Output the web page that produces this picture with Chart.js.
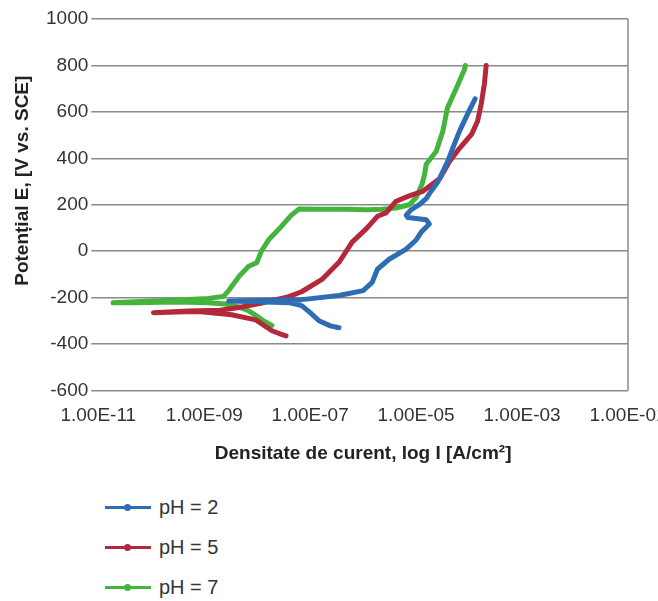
<!DOCTYPE html>
<html>
<head>
<meta charset="utf-8">
<script src="https://cdn.jsdelivr.net/npm/chart.js@4/dist/chart.umd.min.js"></script>
<style>
  html, body { margin: 0; padding: 0; background: #fff; }
  #wrap { position: relative; width: 658px; height: 601px; }
  #c { position: absolute; left: 0; top: 0; }
  #legend { position: absolute; left: 105px; top: 487px; font-family: "Liberation Sans", Arial, sans-serif; font-size: 20px; color: #333; }
  .item { height: 40px; display: flex; align-items: center; }
  .sw { position: relative; width: 46px; height: 3px; margin-right: 8px; }
  .dot { position: absolute; left: 19px; top: -2px; width: 7px; height: 7px; border-radius: 50%; }
</style>
</head>
<body>
<div id="wrap">
  <canvas id="c" width="658" height="469"></canvas>
  <div id="legend"></div>
</div>
<script>
// ---- data ----
const seriesNames = ['pH = 2', 'pH = 5', 'pH = 7'];
const seriesColors = ['#2e6db4', '#b3283b', '#45b43c'];

const ph2Current = [3.5e-7, 2.4e-7, 1.47e-7, 1.0e-7, 6.9e-8, 4e-8, 1e-8, 2.9e-9, 5e-9, 2e-8, 7e-8, 3.5e-7, 1.0e-6, 1.48e-6, 1.86e-6, 3.1e-6, 6.5e-6, 1.0e-5, 1.26e-5, 1.78e-5, 1.55e-5, 7e-6, 6.5e-6, 8e-6, 1.15e-5, 1.55e-5, 1.9e-5, 2.6e-5, 3.2e-5, 4.0e-5, 4.9e-5, 6.6e-5, 1.0e-4, 1.3e-4];
const ph2Potential = [-330, -322, -300, -265, -235, -222, -218, -215, -214, -212, -209, -191, -170, -135, -78, -35, 9, 48, 83, 117, 135, 145, 155, 178, 200, 226, 257, 300, 343, 390, 443, 517, 604, 656];

const ph5Current = [3.5e-8, 2.6e-8, 1.9e-8, 9.4e-9, 3.3e-9, 7.8e-10, 3e-10, 1.1e-10, 5e-10, 2e-9, 4.5e-9, 1.17e-8, 1.9e-8, 3.5e-8, 6.9e-8, 1.67e-7, 3.5e-7, 6.2e-7, 1.14e-6, 1.86e-6, 2.7e-6, 4.2e-6, 7.4e-6, 1.32e-5, 2.8e-5, 4.3e-5, 6.6e-5, 1.12e-4, 1.45e-4, 1.7e-4, 1.95e-4, 2.1e-4];
const ph5Potential = [-365, -355, -343, -296, -274, -260, -262, -265, -258, -255, -243, -225, -213, -200, -175, -122, -48, 39, 96, 150, 165, 215, 238, 257, 313, 387, 443, 504, 561, 635, 722, 800];

const ph7Current = [1.9e-8, 1.3e-8, 1.0e-8, 7e-9, 4.5e-9, 2.5e-9, 1.2e-9, 5e-10, 1.5e-10, 5e-11, 1.9e-11, 5e-11, 1.5e-10, 5e-10, 1.2e-9, 2.3e-9, 2.9e-9, 4.5e-9, 6.9e-9, 9.8e-9, 1.2e-8, 1.66e-8, 2.6e-8, 4.5e-8, 6.2e-8, 1.5e-7, 5e-7, 1.2e-6, 2.3e-6, 4.2e-6, 7.4e-6, 1.0e-5, 1.3e-5, 1.44e-5, 1.55e-5, 2.4e-5, 3.2e-5, 3.9e-5, 5.8e-5, 8.1e-5, 8.5e-5];
const ph7Potential = [-320, -300, -280, -258, -240, -228, -222, -220, -220, -222, -222, -218, -214, -208, -204, -195, -170, -110, -65, -50, 0, 50, 96, 157, 182, 180, 180, 178, 180, 186, 200, 230, 290, 330, 374, 430, 517, 617, 704, 780, 800];

const xTickValues = [1e-11, 1e-9, 1e-7, 1e-5, 1e-3, 1e-1];
const yMin = -600, yMax = 1000, yStep = 200;
const xTitle = 'Densitate de curent, log I [A/cm²]';
const yTitle = 'Potențial E, [V vs. SCE]';

// ---- build ----
const currents = [ph2Current, ph5Current, ph7Current];
const potentials = [ph2Potential, ph5Potential, ph7Potential];

function fmtExp(v) {
  const s = v.toExponential(2).toUpperCase(); // e.g. 1.00E-11
  const m = s.match(/^(.*)E([+-])(\d+)$/);
  if (!m) return s;
  return m[1] + 'E' + m[2] + (m[3].length < 2 ? '0' + m[3] : m[3]);
}

const datasets = seriesNames.map((name, i) => ({
  label: name,
  data: currents[i].map((x, k) => ({ x: x, y: potentials[i][k] })),
  showLine: true,
  borderColor: seriesColors[i],
  backgroundColor: seriesColors[i],
  borderWidth: 5,
  pointRadius: 0,
  tension: 0,
  borderCapStyle: 'round',
  borderJoinStyle: 'round'
}));

const FONT = '"Liberation Sans", Arial, sans-serif';
const GRID = '#8a8a8a';

// right-hand frame line of the plot area
const framePlugin = {
  id: 'frame',
  beforeDatasetsDraw(chart) {
    const { ctx, chartArea: a } = chart;
    ctx.save();
    ctx.strokeStyle = GRID;
    ctx.lineWidth = 1.5;
    ctx.beginPath();
    ctx.moveTo(a.right, a.top);
    ctx.lineTo(a.right, a.bottom);
    ctx.stroke();
    ctx.restore();
  }
};

// vertical axis title, placed a little above the plot's middle as in the reference
const yTitlePlugin = {
  id: 'yTitle',
  afterDraw(chart) {
    const { ctx, chartArea: a } = chart;
    ctx.save();
    ctx.translate(23, (a.top + a.bottom) / 2 - 24);
    ctx.rotate(-Math.PI / 2);
    ctx.fillStyle = '#222';
    ctx.font = 'bold 19px ' + FONT;
    ctx.textAlign = 'center';
    ctx.textBaseline = 'middle';
    ctx.fillText(yTitle, 0, 0);
    ctx.restore();
  }
};

const chart = new Chart(document.getElementById('c'), {
  type: 'scatter',
  data: { datasets },
  options: {
    responsive: false,
    devicePixelRatio: 1,
    animation: false,
    layout: { padding: { top: 19, right: 30, left: 43, bottom: 4 } },
    plugins: { legend: { display: false }, tooltip: { enabled: false } },
    scales: {
      x: {
        type: 'logarithmic',
        min: xTickValues[0],
        max: xTickValues[xTickValues.length - 1],
        afterBuildTicks: (scale) => { scale.ticks = xTickValues.map(v => ({ value: v })); },
        afterFit: (scale) => { scale.paddingLeft = 0; scale.paddingRight = 0; },
        grid: { display: false },
        border: { display: false },
        ticks: {
          autoSkip: false, maxRotation: 0, minRotation: 0,
          color: '#333', padding: 6,
          font: { family: FONT, size: 19 },
          callback: (v) => fmtExp(v)
        },
        title: {
          display: true, text: xTitle, color: '#222',
          font: { family: FONT, size: 19, weight: 'bold' },
          padding: { top: 9, bottom: 0 }
        }
      },
      y: {
        min: yMin, max: yMax,
        grid: { color: GRID, lineWidth: 1.5, tickLength: 7, drawTicks: true },
        border: { display: false },
        ticks: {
          stepSize: yStep, color: '#333', padding: 3,
          font: { family: FONT, size: 19 },
          callback: (v) => String(v)
        },
        title: { display: false }
      }
    }
  },
  plugins: [framePlugin, yTitlePlugin]
});

// ---- HTML legend from the chart's datasets ----
const leg = document.getElementById('legend');
chart.data.datasets.forEach(ds => {
  const item = document.createElement('div');
  item.className = 'item';
  const sw = document.createElement('span');
  sw.className = 'sw';
  sw.style.background = ds.borderColor;
  const dot = document.createElement('span');
  dot.className = 'dot';
  dot.style.background = ds.borderColor;
  sw.appendChild(dot);
  const t = document.createElement('span');
  t.textContent = ds.label;
  item.appendChild(sw);
  item.appendChild(t);
  leg.appendChild(item);
});
</script>
</body>
</html>
